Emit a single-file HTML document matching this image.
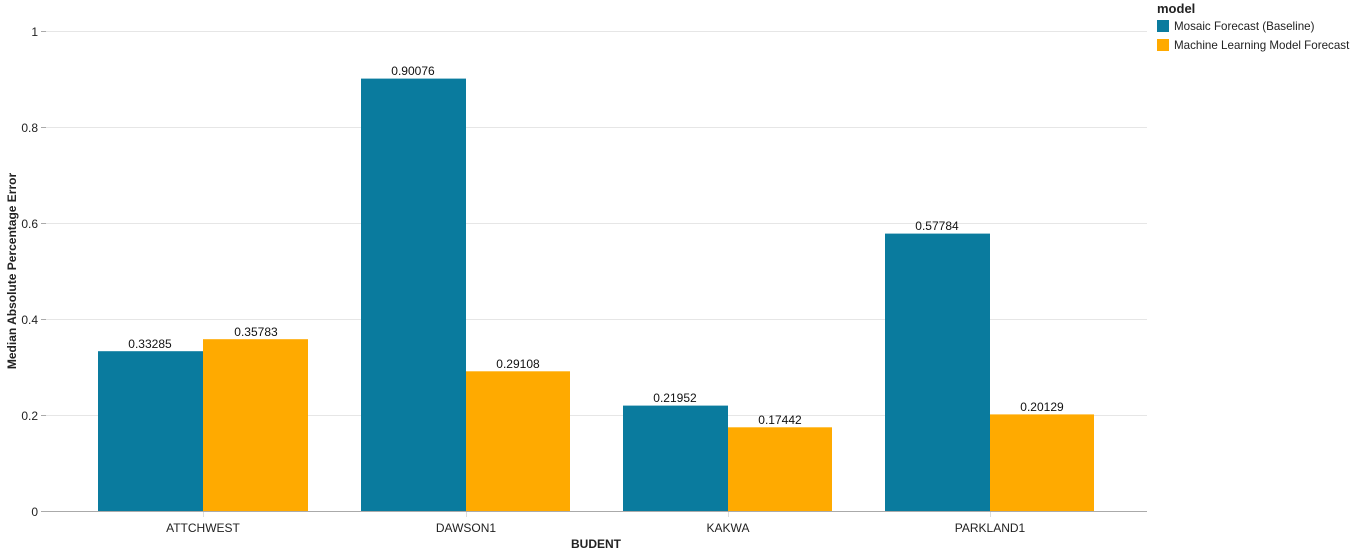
<!DOCTYPE html>
<html><head><meta charset="utf-8"><style>body{margin:0;background:#fff}svg{display:block;font-family:"Liberation Sans",Arial,sans-serif}</style></head><body>
<svg width="1367" height="555" xmlns="http://www.w3.org/2000/svg">
<g stroke="#e6e6e6" stroke-width="1">
<line x1="46" x2="1147" y1="31.5" y2="31.5"/>
<line x1="46" x2="1147" y1="127.5" y2="127.5"/>
<line x1="46" x2="1147" y1="223.5" y2="223.5"/>
<line x1="46" x2="1147" y1="319.5" y2="319.5"/>
<line x1="46" x2="1147" y1="415.5" y2="415.5"/>
</g>
<g stroke="#aaa"><line x1="41" x2="46" y1="31.5" y2="31.5"/><line x1="41" x2="46" y1="127.5" y2="127.5"/><line x1="41" x2="46" y1="223.5" y2="223.5"/><line x1="41" x2="46" y1="319.5" y2="319.5"/><line x1="41" x2="46" y1="415.5" y2="415.5"/></g>
<g font-size="12" fill="#222" text-anchor="end">
<text x="38" y="36">1</text><text x="38" y="132">0.8</text><text x="38" y="228">0.6</text><text x="38" y="324">0.4</text><text x="38" y="420">0.2</text><text x="38" y="516">0</text>
</g>
<g fill="#0a7b9e">
<rect x="98" y="351.2" width="105" height="159.8"/>
<rect x="361" y="78.6" width="105" height="432.4"/>
<rect x="623" y="405.6" width="105" height="105.4"/>
<rect x="885" y="233.6" width="105" height="277.4"/>
</g>
<g fill="#ffaa00">
<rect x="203" y="339.2" width="105" height="171.8"/>
<rect x="466" y="371.3" width="104" height="139.7"/>
<rect x="728" y="427.3" width="104" height="83.7"/>
<rect x="990" y="414.4" width="104" height="96.6"/>
</g>
<line x1="41" x2="1147" y1="511.5" y2="511.5" stroke="#aaa"/>
<g stroke="#ddd"><line x1="203.5" x2="203.5" y1="512" y2="517"/><line x1="466.5" x2="466.5" y1="512" y2="517"/><line x1="728.5" x2="728.5" y1="512" y2="517"/><line x1="990.5" x2="990.5" y1="512" y2="517"/></g>
<g font-size="12" fill="#111" text-anchor="middle">
<text x="150" y="348">0.33285</text><text x="256" y="336">0.35783</text>
<text x="413" y="75">0.90076</text><text x="518" y="368">0.29108</text>
<text x="675" y="402">0.21952</text><text x="780" y="424">0.17442</text>
<text x="937" y="230">0.57784</text><text x="1042" y="411">0.20129</text>
</g>
<g font-size="12" fill="#222" text-anchor="middle">
<text x="203" y="532">ATTCHWEST</text><text x="466" y="532">DAWSON1</text><text x="728" y="532">KAKWA</text><text x="990" y="532">PARKLAND1</text>
</g>
<text x="596" y="548" font-size="12" font-weight="bold" text-anchor="middle" fill="#222">BUDENT</text>
<text transform="translate(16,271) rotate(-90)" font-size="12" font-weight="bold" text-anchor="middle" fill="#222">Median Absolute Percentage Error</text>
<text x="1157" y="13" font-size="13" font-weight="bold" fill="#222">model</text>
<rect x="1157" y="20" width="12" height="12" fill="#0a7b9e"/>
<text x="1174" y="30" font-size="11.6" fill="#222">Mosaic Forecast (Baseline)</text>
<rect x="1157" y="39" width="12" height="12" fill="#ffaa00"/>
<text x="1174" y="49" font-size="11.6" fill="#222">Machine Learning Model Forecast</text>
</svg>
</body></html>
